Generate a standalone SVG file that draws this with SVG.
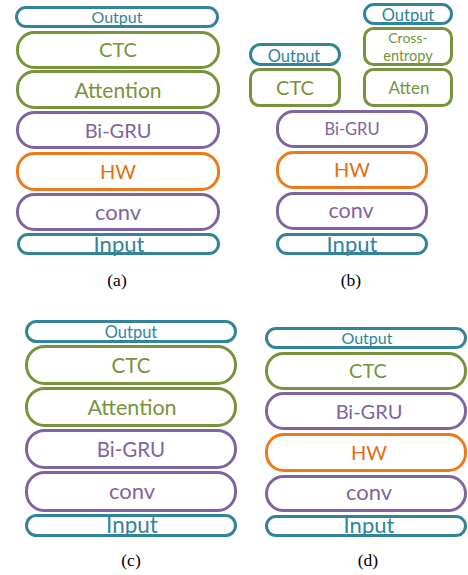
<svg xmlns="http://www.w3.org/2000/svg" width="468" height="575" viewBox="0 0 468 575">
<style>
rect{fill:#fff;stroke-width:3}
text{font-family:Lato,"Open Sans","Liberation Sans",sans-serif;text-anchor:middle}
.tl rect{stroke:#31849B}.tl text{fill:#31849B}
.gr rect{stroke:#77933C}.gr text{fill:#77933C}
.pu rect{stroke:#8064A2}.pu text{fill:#8064A2}
.or rect{stroke:#EE7A1C}.or text{fill:#E46C0A}
.cap{font-family:"Liberation Serif","Times New Roman",serif;font-size:17.5px;fill:#000}
</style>
<rect x="0" y="0" width="468" height="575" style="stroke:none;fill:#fff"/>
<!-- (a) -->
<g id="a_output" class="tl"><rect x="16.5" y="7.5" width="201" height="19" rx="9.5"/><text x="117" y="23" font-size="16">Output</text></g>
<g id="a_ctc" class="gr"><rect x="17.5" y="32.5" width="201" height="35" rx="17"/><text x="118" y="57" font-size="20">CTC</text></g>
<g id="a_attention" class="gr"><rect x="17.5" y="71.5" width="201" height="36" rx="17"/><text x="118" y="98" font-size="21">Attention</text></g>
<g id="a_bigru" class="pu"><rect x="17.5" y="112.5" width="201" height="35" rx="17"/><text x="118" y="138" font-size="20">Bi-GRU</text></g>
<g id="a_hw" class="or"><rect x="17.5" y="153.5" width="201" height="36" rx="17"/><text x="118" y="179" font-size="20">HW</text></g>
<g id="a_conv" class="pu"><rect x="17.5" y="194.5" width="201" height="35" rx="17"/><text x="118" y="220" font-size="22">conv</text></g>
<g id="a_input" class="tl"><rect x="18.5" y="234.5" width="200" height="19" rx="9.5"/><text x="119" y="252" font-size="22">Input</text></g>
<text class="cap" x="117" y="286">(a)</text>
<!-- (b) -->
<g id="b_output1" class="tl"><rect x="250.5" y="44.5" width="89" height="20" rx="10"/><text x="294" y="62" font-size="16.5">Output</text></g>
<g id="b_ctc" class="gr"><rect x="250.5" y="69.5" width="89" height="36" rx="9"/><text x="295" y="95" font-size="20">CTC</text></g>
<g id="b_output2" class="tl"><rect x="364.5" y="4.5" width="87" height="19" rx="9.5"/><text x="408" y="21" font-size="16.5">Output</text></g>
<g id="b_crossentropy" class="gr"><rect x="364.5" y="28.5" width="87" height="36" rx="9"/><text x="408" y="43" font-size="14">Cross-</text><text x="408" y="61" font-size="14.5">entropy</text></g>
<g id="b_atten" class="gr"><rect x="364.5" y="69.5" width="87" height="36" rx="9"/><text x="409" y="94" font-size="17">Atten</text></g>
<g id="b_bigru" class="pu"><rect x="277.5" y="111.5" width="149" height="35" rx="16"/><text x="352" y="135" font-size="16.5">Bi-GRU</text></g>
<g id="b_hw" class="or"><rect x="277.5" y="152.5" width="149" height="35" rx="16"/><text x="352" y="177" font-size="20">HW</text></g>
<g id="b_conv" class="pu"><rect x="277.5" y="193.5" width="149" height="35" rx="16"/><text x="351" y="218" font-size="21.5">conv</text></g>
<g id="b_input" class="tl"><rect x="277.5" y="234.5" width="149" height="19" rx="9.5"/><text x="352" y="252" font-size="22">Input</text></g>
<text class="cap" x="351" y="286">(b)</text>
<!-- (c) -->
<g id="c_output" class="tl"><rect x="26.5" y="321.5" width="209" height="20" rx="10"/><text x="131" y="338" font-size="16.5">Output</text></g>
<g id="c_ctc" class="gr"><rect x="26.5" y="346.5" width="209" height="37" rx="18"/><text x="131" y="373" font-size="20.5">CTC</text></g>
<g id="c_attention" class="gr"><rect x="26.5" y="388.5" width="209" height="37" rx="18"/><text x="132" y="415" font-size="21.5">Attention</text></g>
<g id="c_bigru" class="pu"><rect x="26.5" y="430.5" width="209" height="37" rx="18"/><text x="131" y="457" font-size="20.5">Bi-GRU</text></g>
<g id="c_conv" class="pu"><rect x="26.5" y="472.5" width="209" height="38" rx="18"/><text x="132" y="499" font-size="22">conv</text></g>
<g id="c_input" class="tl"><rect x="26.5" y="515.5" width="209" height="20" rx="10"/><text x="132" y="533" font-size="22.5">Input</text></g>
<text class="cap" x="131" y="566">(c)</text>
<!-- (d) -->
<g id="d_output" class="tl"><rect x="266.5" y="328.5" width="199" height="19" rx="9.5"/><text x="367" y="344" font-size="16">Output</text></g>
<g id="d_ctc" class="gr"><rect x="266.5" y="353.5" width="199" height="35" rx="17"/><text x="368" y="378" font-size="20">CTC</text></g>
<g id="d_bigru" class="pu"><rect x="266.5" y="393.5" width="199" height="35" rx="17"/><text x="369" y="419" font-size="20">Bi-GRU</text></g>
<g id="d_hw" class="or"><rect x="266.5" y="434.5" width="199" height="36" rx="17"/><text x="369" y="460" font-size="20">HW</text></g>
<g id="d_conv" class="pu"><rect x="266.5" y="476.5" width="199" height="34" rx="17"/><text x="369" y="500" font-size="22">conv</text></g>
<g id="d_input" class="tl"><rect x="266.5" y="516.5" width="199" height="19" rx="9.5"/><text x="369" y="533" font-size="22">Input</text></g>
<text class="cap" x="368" y="566">(d)</text>
</svg>
